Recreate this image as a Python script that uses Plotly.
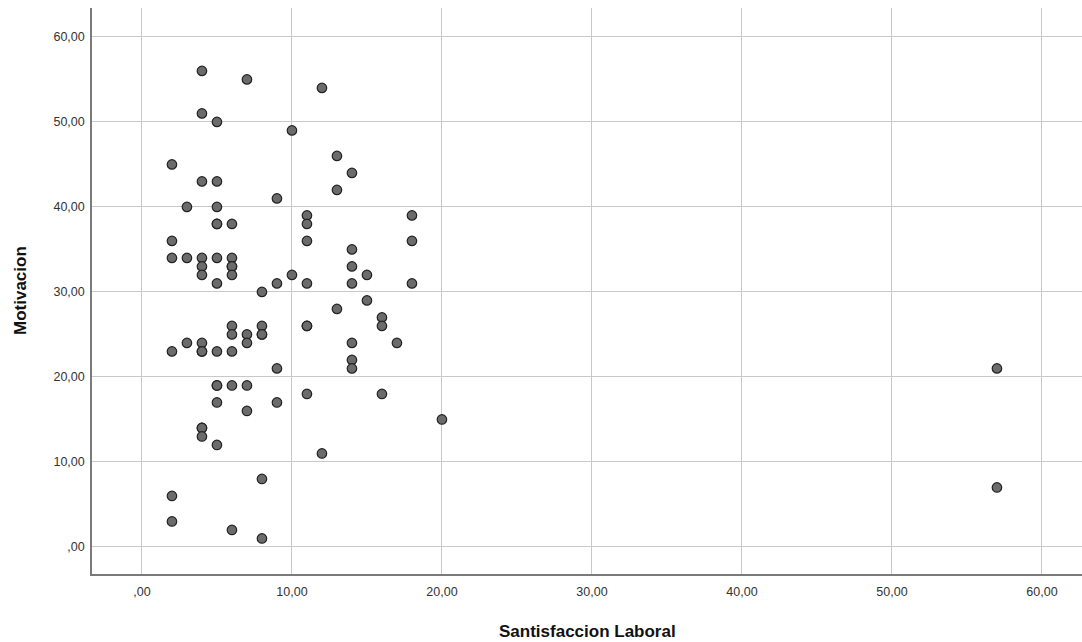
import plotly.graph_objects as go

# Santisfaccion Laboral (x) and Motivacion (y)
satisfaccion = [4, 7, 12, 4, 5, 10, 13, 14, 2, 4, 5, 13, 9, 3, 5, 11, 18, 5, 5, 6,
                11, 2, 11, 18, 2, 3, 4, 5, 6, 14, 4, 6, 6, 14, 4, 6, 10, 15, 5, 9,
                11, 14, 18, 8, 15, 13, 16, 6, 8, 11, 11, 16, 6, 7, 8, 8, 3, 4, 7, 14,
                17, 2, 4, 4, 5, 6, 14, 9, 14, 57, 5, 5, 6, 7, 11, 16, 5, 9, 7, 20,
                4, 4, 4, 5, 12, 8, 2, 57, 2, 6, 8]
motivacion = [56, 55, 54, 51, 50, 49, 46, 44, 45, 43, 43, 42, 41, 40, 40, 39, 39, 38, 38, 38,
              38, 36, 36, 36, 34, 34, 34, 34, 34, 35, 33, 33, 33, 33, 32, 32, 32, 32, 31, 31,
              31, 31, 31, 30, 29, 28, 27, 26, 26, 26, 26, 26, 25, 25, 25, 25, 24, 24, 24, 24,
              24, 23, 23, 23, 23, 23, 22, 21, 21, 21, 19, 19, 19, 19, 18, 18, 17, 17, 16, 15,
              14, 14, 13, 12, 11, 8, 6, 7, 3, 2, 1]

tick_vals = [0, 10, 20, 30, 40, 50, 60]
tick_text = [",00", "10,00", "20,00", "30,00", "40,00", "50,00", "60,00"]

fig = go.Figure()
fig.add_trace(go.Scatter(
    x=satisfaccion, y=motivacion, mode="markers",
    marker=dict(size=9.5, color="#6b6b6b", line=dict(color="#222222", width=1.2)),
    hoverinfo="x+y", showlegend=False,
))

font_family = "Liberation Sans, Arial, sans-serif"
axis_common = dict(
    tickvals=tick_vals, ticktext=tick_text,
    showgrid=True, gridcolor="#c9c9c9", gridwidth=1,
    zeroline=False, showline=True, linecolor="#7a7a7a", linewidth=1.5,
    ticks="", tickfont=dict(family=font_family, size=12.5, color="#333333"),
    fixedrange=True,
)

fig.update_layout(
    width=1082, height=642,
    margin=dict(l=92, r=0, t=8, b=68),
    paper_bgcolor="white", plot_bgcolor="white",
    xaxis=dict(range=[-3.33, 62.67], ticklabelstandoff=5, **axis_common),
    yaxis=dict(range=[-3.18, 63.4], ticklabelstandoff=3, **axis_common),
    annotations=[
        dict(text="<b>Santisfaccion Laboral</b>", xref="paper", yref="paper",
             x=0.5, y=0, yanchor="middle", yshift=-57, showarrow=False,
             font=dict(family=font_family, size=17, color="#111111")),
        dict(text="<b>Motivacion</b>", xref="paper", yref="paper",
             x=0, y=0.5, xanchor="center", xshift=-72, textangle=-90, showarrow=False,
             font=dict(family=font_family, size=17, color="#111111")),
    ],
)

fig.write_html("out.html",
               config={"displayModeBar": False},
               post_script="document.body.style.margin='0';document.body.style.overflow='hidden';")
